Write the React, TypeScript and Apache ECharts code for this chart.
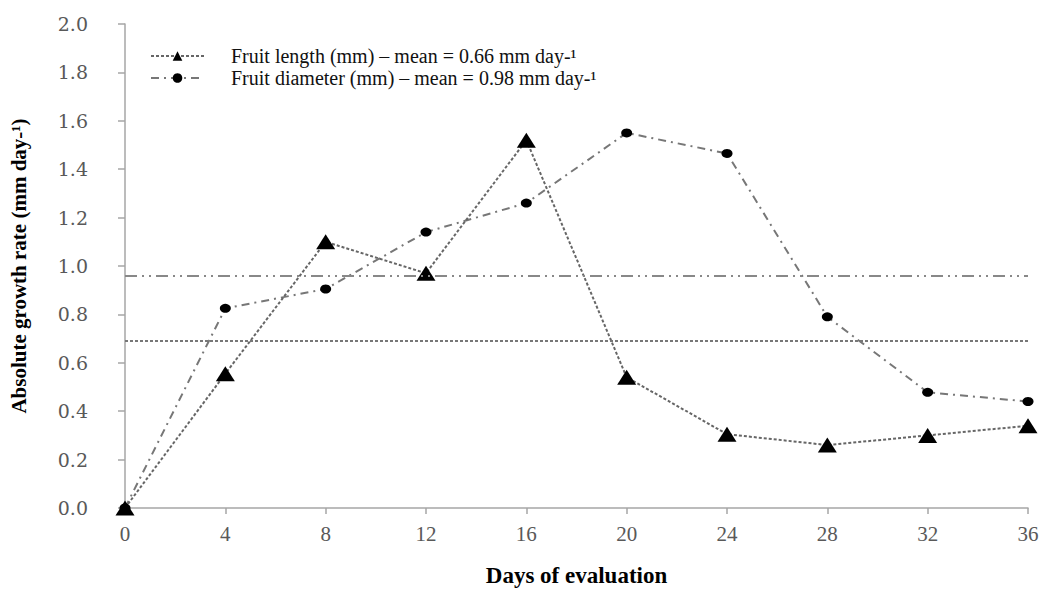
import React, { useEffect, useRef } from "react";
import * as echarts from "echarts";

const days = [0, 4, 8, 12, 16, 20, 24, 28, 32, 36];
const fruitLength = [0, 0.555, 1.1, 0.97, 1.52, 0.54, 0.305, 0.26, 0.3, 0.34];
const fruitDiameter = [0, 0.825, 0.905, 1.14, 1.26, 1.55, 1.465, 0.79, 0.478, 0.44];
const meanLength = 0.685;
const meanDiameter = 0.963;
const seriesNames = [
  "Fruit length (mm) – mean = 0.66 mm day-¹",
  "Fruit diameter (mm) – mean = 0.98 mm day-¹",
];
const yTitle = "Absolute growth rate (mm day-¹)";
const xTitle = "Days of evaluation";

export default function App() {
  const ref = useRef<HTMLDivElement>(null);
  useEffect(() => {
    if (!ref.current) return;
    const chart = echarts.init(ref.current, undefined, { renderer: "svg" });
    const serif = "Liberation Serif, Times New Roman, serif";
    chart.setOption({
      animation: false,
      backgroundColor: "#ffffff",
      grid: { left: 122, right: 20, top: 24, bottom: 82 },
      legend: {
        orient: "vertical",
        left: 145,
        top: 41,
        itemWidth: 53,
        itemHeight: 12,
        itemGap: 2,
        textStyle: {
          fontFamily: serif,
          fontSize: 20,
          lineHeight: 20,
          color: "#111",
          padding: [0, 0, 0, 22],
        },
        data: seriesNames,
      },
      xAxis: {
        type: "value",
        min: 0,
        max: 36,
        interval: 4,
        name: xTitle,
        nameLocation: "middle",
        nameGap: 56,
        nameTextStyle: { fontFamily: serif, fontSize: 23, fontWeight: "bold", color: "#000" },
        axisLine: { show: true, lineStyle: { color: "#a6a6a6", width: 1.5 } },
        axisTick: { show: true, length: 6, lineStyle: { color: "#a6a6a6", width: 1.5 } },
        axisLabel: { fontFamily: serif, fontSize: 21, color: "#595959", margin: 15 },
        splitLine: { show: false },
      },
      yAxis: {
        type: "value",
        min: 0,
        max: 2,
        interval: 0.2,
        name: yTitle,
        nameLocation: "middle",
        nameGap: 96,
        nameRotate: 90,
        nameTextStyle: { fontFamily: serif, fontSize: 21, fontWeight: "bold", color: "#000" },
        axisLine: { show: true, lineStyle: { color: "#a6a6a6", width: 1.5 } },
        axisTick: { show: true, length: 7, lineStyle: { color: "#a6a6a6", width: 1.5 } },
        axisLabel: {
          fontFamily: "DejaVu Serif, serif",
          fontSize: 19,
          color: "#595959",
          margin: 37,
          formatter: (v: number) => v.toFixed(1),
        },
        splitLine: { show: false },
      },
      series: [
        {
          name: seriesNames[0],
          type: "line",
          data: days.map((d, i) => [d, fruitLength[i]]),
          symbol: "triangle",
          symbolSize: [19, 15],
          itemStyle: { color: "#000" },
          lineStyle: { color: "#666", width: 2, type: [3, 2] },
          z: 3,
          markLine: {
            silent: true,
            symbol: "none",
            label: { show: false },
            lineStyle: { color: "#777", width: 2, type: [3, 2] },
            data: [{ yAxis: meanLength }],
          },
        },
        {
          name: seriesNames[1],
          type: "line",
          data: days.map((d, i) => [d, fruitDiameter[i]]),
          symbol: "circle",
          symbolSize: [11, 9],
          itemStyle: { color: "#000" },
          lineStyle: { color: "#777", width: 2, type: [8, 5, 2, 5] },
          z: 2,
          markLine: {
            silent: true,
            symbol: "none",
            label: { show: false },
            lineStyle: { color: "#888", width: 2, type: [12, 5, 2, 5, 2, 5] },
            data: [{ yAxis: meanDiameter }],
          },
        },
      ],
    });
    return () => chart.dispose();
  }, []);
  return (
    <div
      ref={ref}
      style={{ width: 1048, height: 592, position: "absolute", left: 0, top: 0 }}
    />
  );
}
